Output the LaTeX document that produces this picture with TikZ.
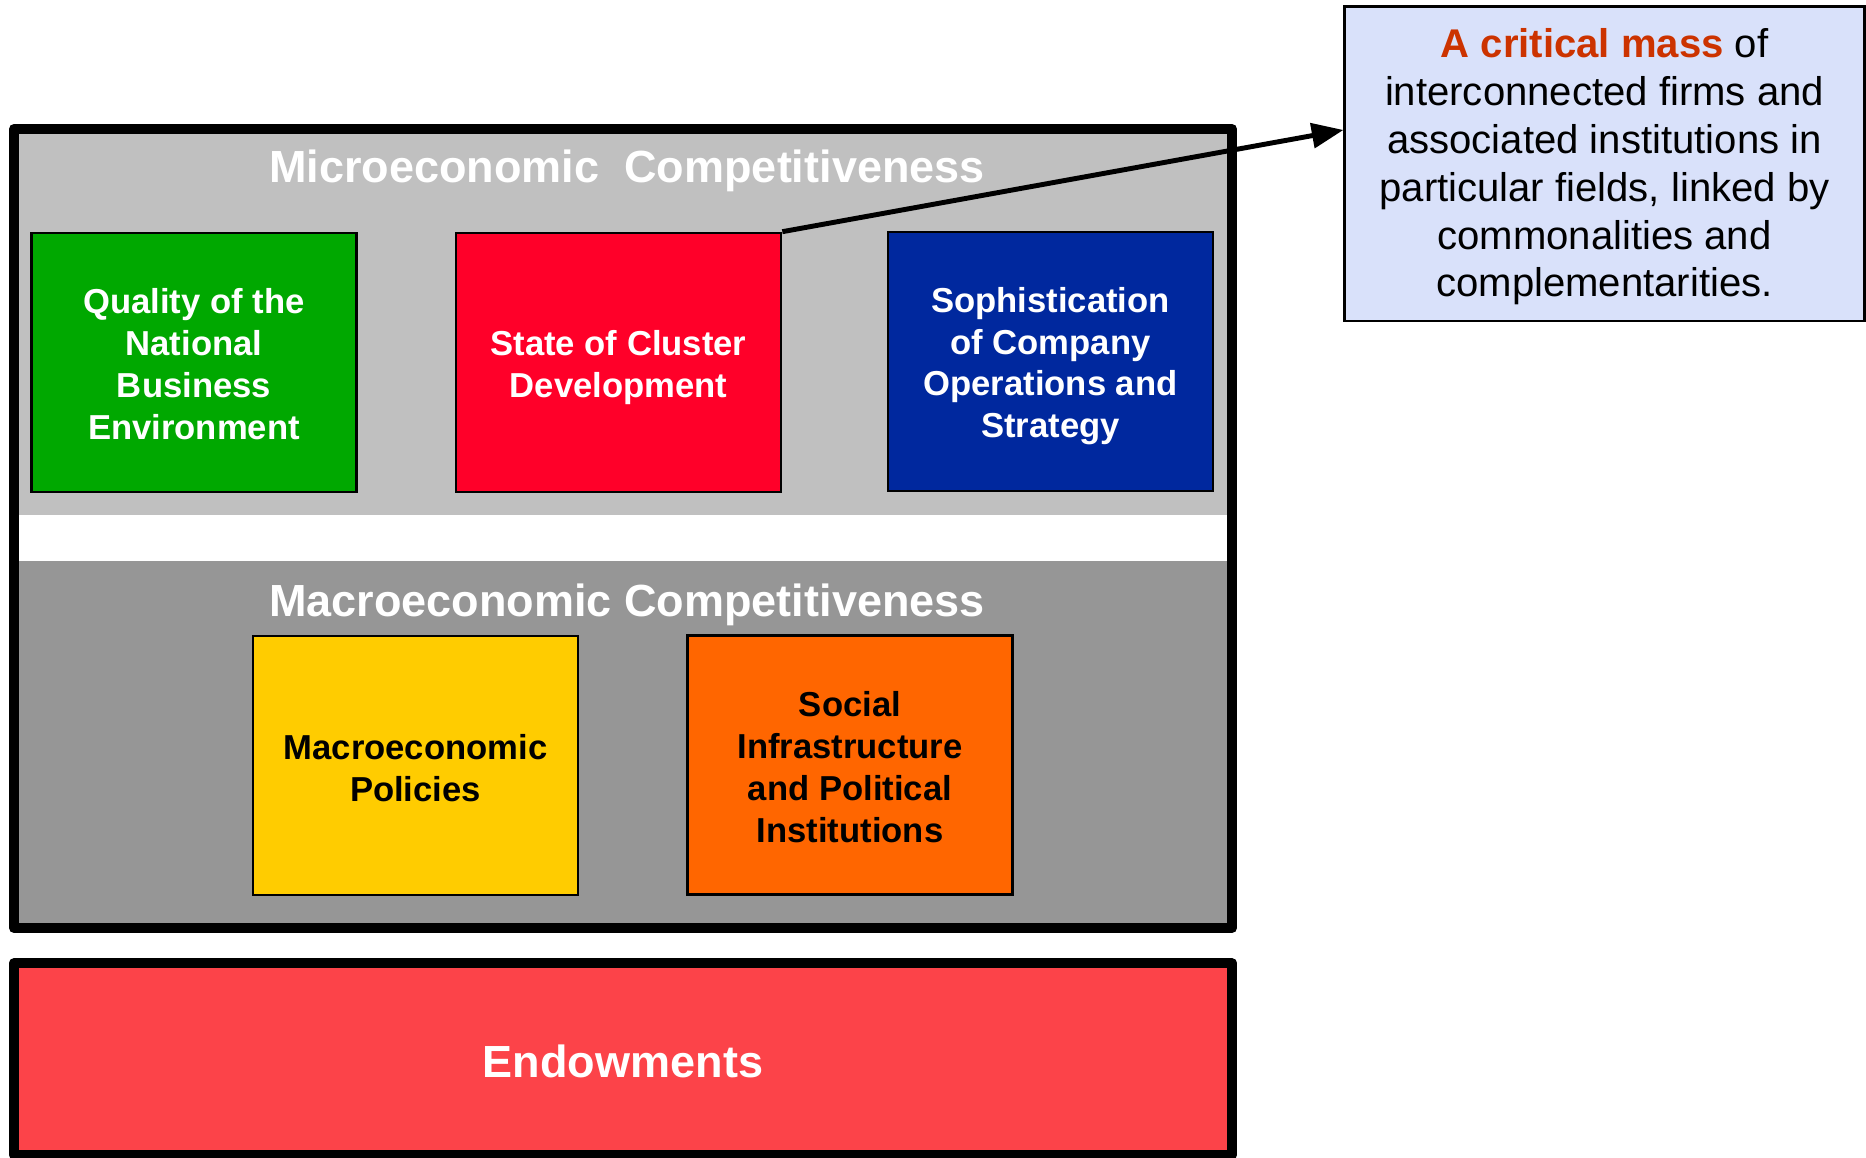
\documentclass[tikz,border=0pt]{standalone}
\usepackage{fontspec}
\setmainfont{Liberation Sans}
\usetikzlibrary{arrows.meta}
\definecolor{microgray}{HTML}{C0C0C0}
\definecolor{macrogray}{HTML}{969696}
\definecolor{qualgreen}{HTML}{00A800}
\definecolor{clusterred}{HTML}{FF0029}
\definecolor{stratblue}{HTML}{00289E}
\definecolor{polyellow}{HTML}{FFCC00}
\definecolor{instorange}{HTML}{FF6600}
\definecolor{endowred}{HTML}{FC4349}
\definecolor{notefill}{HTML}{D9E1FA}
\definecolor{massred}{HTML}{CC3300}
\tikzstyle{arrow} = [line width=1.4pt, -{Triangle[length=9pt,width=7pt]}]
\newcommand{\lift}[1]{\rule{0pt}{#1}}

\begin{document}
\begin{tikzpicture}[
  x=0.01cm, y=-0.01cm,
  factor/.style={draw=black, line width=0.7pt, minimum width=3.25cm, minimum height=2.59cm,
    inner sep=0pt, align=center, font=\fontsize{9.85}{11.9}\selectfont\bfseries},
  heading/.style={text=white, font=\fontsize{12.8}{15}\selectfont\bfseries},
  frame/.style={draw=black, line width=0.1cm, line join=round}
]
\useasboundingbox (0,0) rectangle (1866,1158);

% backgrounds
\fill[microgray] (14,129) rectangle (1232,515);
\fill[macrogray] (14,561) rectangle (1232,928);
\draw[frame] (14,129) rectangle (1232,928);

\node[heading] (micro) at (627,171) {Microeconomic\ \ Competitiveness};
\node[factor, fill=qualgreen, text=white] (quality) at (194,362.5) {\lift{8.2pt}Quality of the\\National\\Business\\Environment};
\node[factor, fill=clusterred, text=white] (cluster) at (618.5,362.5) {\lift{9.8pt}State of Cluster\\Development};
\node[factor, fill=stratblue, text=white] (strategy) at (1050.5,361.5) {\lift{9.8pt}Sophistication\\of Company\\Operations and\\Strategy};

\node[heading] (macro) at (627,605) {Macroeconomic Competitiveness};
\node[factor, fill=polyellow, text=black] (policies) at (415.5,765.5) {\lift{8.4pt}Macroeconomic\\Policies};
\node[factor, fill=instorange, text=black] (institutions) at (850,765) {\lift{8.2pt}Social\\Infrastructure\\and Political\\Institutions};

% endowments
\node[frame, fill=endowred, minimum width=12.18cm, minimum height=1.91cm, heading, text height=10.7pt] (endow) at (623,1059) {Endowments};

% callout
\node[draw=black, line width=0.8pt, fill=notefill, minimum width=5.19cm, minimum height=3.14cm, align=center,
  font=\fontsize{11.4}{13.6}\selectfont] (mass) at (1604.5,164)
  {\lift{10pt}{\bfseries\color{massred}A critical mass} of\\interconnected firms and\\associated institutions in\\particular fields, linked by\\commonalities and\\complementarities.};

\draw[arrow] (cluster.north east) -- ([yshift=0.34cm]mass.west);

\end{tikzpicture}
\end{document}
